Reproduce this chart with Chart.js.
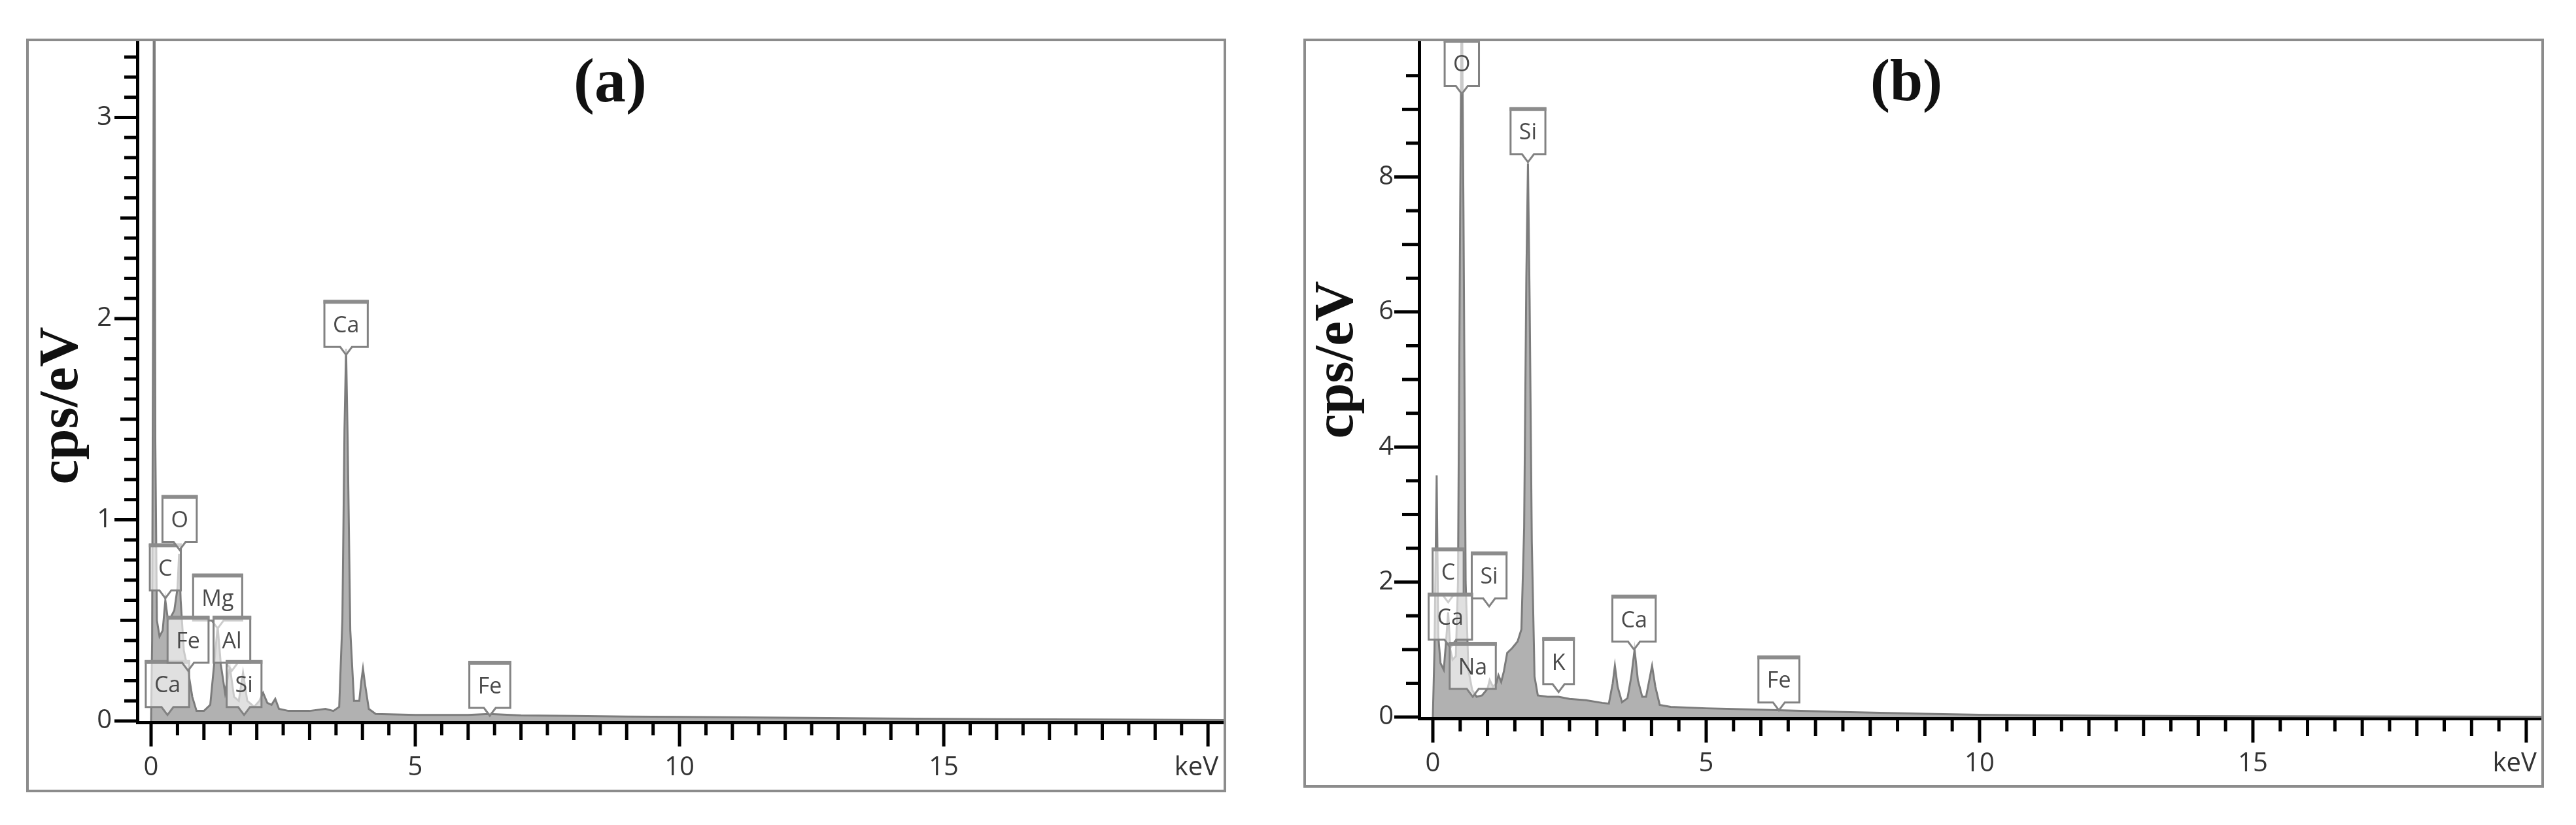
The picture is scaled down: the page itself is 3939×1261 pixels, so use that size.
<!DOCTYPE html>
<html>
<head>
<meta charset="utf-8">
<script src="https://cdn.jsdelivr.net/npm/chart.js@4.4.1/dist/chart.umd.min.js"></script>
<style>
  html, body { margin:0; padding:0; background:#fff; }
  body { width:3939px; height:1261px; position:relative; overflow:hidden; }
  canvas { position:absolute; }
  .frame { position:absolute; box-sizing:border-box; border:4px solid #8c8c8c; pointer-events:none; }
  .tag { position:absolute; font-family:"Liberation Serif","Times New Roman",serif; font-weight:bold;
         line-height:1; white-space:nowrap; color:#111; transform:translateX(-50%); }
  .ylab { position:absolute; font-family:"Liberation Serif","Times New Roman",serif; font-weight:bold;
          font-size:85px; line-height:1; white-space:nowrap; color:#111;
          transform:translate(-50%,-50%) rotate(-90deg); }
</style>
</head>
<body>
<canvas id="specA" width="1831" height="1148" style="left:42px;top:61px"></canvas>
<div class="frame" style="left:40px;top:59px;width:1835px;height:1152px"></div>
<div class="tag" style="left:933px;top:75px;font-size:96px">(a)</div>
<div class="ylab" style="left:89px;top:620px">cps/eV</div>

<canvas id="specB" width="1893" height="1141" style="left:1995px;top:61px"></canvas>
<div class="frame" style="left:1993px;top:59px;width:1897px;height:1145px"></div>
<div class="tag" style="left:2915px;top:78px;font-size:90px">(b)</div>
<div class="ylab" style="left:2039px;top:550px">cps/eV</div>

<script>
// spectrum (a): energy in keV, intensity in cps/eV
const energyA = [0.00,0.02,0.04,0.06,0.08,0.11,0.16,0.22,0.27,0.32,0.38,0.44,0.50,0.53,0.56,0.62,0.70,0.78,0.86,1.00,
  1.12,1.20,1.26,1.32,1.40,1.49,1.57,1.66,1.74,1.82,1.95,2.05,2.12,2.20,2.28,2.35,2.42,2.60,3.00,3.30,
  3.45,3.56,3.62,3.66,3.69,3.72,3.77,3.84,3.94,3.98,4.01,4.05,4.12,4.25,5.0,6.0,6.4,7.0,8.0,9.0,
  10.0,12.0,14.0,16.0,18.0,20.3];
const cpsA = [0,0.40,2.2,4.5,1.4,0.50,0.42,0.45,0.60,0.50,0.52,0.55,0.66,0.83,0.60,0.35,0.25,0.12,0.05,0.05,
  0.08,0.30,0.47,0.28,0.14,0.27,0.12,0.10,0.24,0.10,0.07,0.10,0.14,0.09,0.08,0.11,0.06,0.05,0.05,0.06,
  0.05,0.07,0.50,1.45,1.85,1.40,0.45,0.10,0.10,0.20,0.26,0.18,0.06,0.035,0.03,0.03,0.035,0.028,0.025,0.022,
  0.02,0.016,0.012,0.009,0.007,0.005];

// spectrum (b)
const energyB = [0.00,0.03,0.07,0.10,0.14,0.20,0.24,0.28,0.32,0.36,0.42,0.46,0.50,0.53,0.56,0.60,0.65,0.72,0.80,0.90,
  1.00,1.04,1.10,1.16,1.20,1.25,1.30,1.36,1.45,1.55,1.62,1.67,1.71,1.74,1.77,1.81,1.86,1.92,2.1,2.3,
  2.5,2.8,3.1,3.22,3.29,3.33,3.38,3.46,3.56,3.63,3.69,3.75,3.83,3.90,3.96,4.01,4.07,4.15,4.35,5.0,
  6.0,6.4,7.5,9.0,10.0,11.0,12.5,14.0,17.0,20.3];
const cpsB = [0,1.0,3.58,1.2,0.8,0.7,1.1,1.55,1.0,0.85,0.9,2.0,7.5,11,7.5,2.0,0.7,0.4,0.3,0.32,
  0.42,0.55,0.45,0.5,0.62,0.52,0.68,0.95,1.02,1.12,1.3,2.8,6.5,8.2,6.2,2.6,0.6,0.32,0.3,0.3,
  0.27,0.25,0.21,0.2,0.5,0.76,0.45,0.22,0.28,0.6,1.0,0.55,0.3,0.3,0.55,0.76,0.45,0.18,0.15,0.13,
  0.11,0.1,0.075,0.05,0.035,0.028,0.02,0.014,0.009,0.005];

// element markers: name, energy of the pointer tip, height of the pointer tip
const markNamesA = ['Ca','C','O','Mg','Fe','Al','Si','Ca','Fe'];
const markKeVA   = [0.31,0.27,0.54,1.26,0.70,1.53,1.76,3.69,6.41];
const markCpsA   = [0.03,0.61,0.85,0.46,0.25,0.25,0.03,1.82,0.026];

const markNamesB = ['O','Si','C','Si','Ca','Na','K','Ca','Fe'];
const markKeVB   = [0.53,1.74,0.28,1.03,0.32,0.73,2.30,3.68,6.33];
const markCpsB   = [9.23,8.22,1.70,1.64,1.03,0.30,0.37,1.00,0.10];

// tick labels
const xLabelTicks = [0,5,10,15];
const xUnitLabel = 'keV';
const yLabelTicksA = [0,1,2,3];
const yLabelTicksB = [0,2,4,6,8];

const TICK_FONT = {family:'Open Sans', size:40};

function qs(id){ return document.getElementById(id); }

function steps(from, to, step){
  const out = [];
  const n = Math.round((to - from) / step);
  for(let k = 0; k <= n; k++) out.push(Math.round((from + k*step) * 1000) / 1000);
  return out;
}

function drawMark(ctx, name, px, py){
  ctx.font = '34px "Open Sans"';
  const w = Math.max(46, ctx.measureText(name).width + 26);
  const h = 70, notch = 12;
  const bottom = py - notch, top = bottom - h, left = px - w/2, right = px + w/2;
  ctx.beginPath();
  ctx.moveTo(left, top); ctx.lineTo(right, top); ctx.lineTo(right, bottom);
  ctx.lineTo(px + 9, bottom); ctx.lineTo(px, py); ctx.lineTo(px - 9, bottom);
  ctx.lineTo(left, bottom); ctx.closePath();
  ctx.fillStyle = 'rgba(255,255,255,0.6)';
  ctx.fill();
  ctx.strokeStyle = '#828282'; ctx.lineWidth = 3;
  ctx.stroke();
  ctx.fillStyle = '#8c8c8c';
  ctx.fillRect(left - 1.5, top - 2, w + 3, 6);
  ctx.fillStyle = '#4a4a4a';
  ctx.textAlign = 'center'; ctx.textBaseline = 'middle';
  ctx.fillText(name, px, (top + bottom)/2 + 3);
}

const edsPlugin = {
  id: 'eds',
  afterDraw(chart, args, o){
    const {ctx, chartArea, scales:{x, y}} = chart;
    ctx.save();
    ctx.strokeStyle = '#000'; ctx.lineWidth = 5; ctx.lineCap = 'butt';
    x.ticks.forEach(t => {
      const v = t.value;
      const len = v % 5 === 0 ? 37 : Number.isInteger(v) ? 27 : 20;
      const px = x.getPixelForValue(v);
      ctx.beginPath(); ctx.moveTo(px, chartArea.bottom); ctx.lineTo(px, chartArea.bottom + len); ctx.stroke();
    });
    y.ticks.forEach(t => {
      const v = t.value;
      const len = o.yLabels.includes(v) ? o.yLong : o.isMid(v) ? 26 : 20;
      const py = y.getPixelForValue(v);
      ctx.beginPath(); ctx.moveTo(chartArea.left - len, py); ctx.lineTo(chartArea.left, py); ctx.stroke();
    });
    // unit under the last x tick
    ctx.font = '40px "Open Sans"';
    ctx.fillStyle = '#333'; ctx.textAlign = 'right'; ctx.textBaseline = 'middle';
    ctx.fillText(xUnitLabel, x.getPixelForValue(20) + 16, chartArea.bottom + 46 + 24);
    // element markers
    o.names.forEach((n, i) => drawMark(ctx, n, x.getPixelForValue(o.keV[i]), y.getPixelForValue(o.cps[i])));
    ctx.restore();
  }
};

function spectrumChart(id, o){
  const xTicks = steps(0, 20, 0.5);
  return new Chart(qs(id), {
    type: 'line',
    data: {
      datasets: [{
        data: o.energy.map((e, i) => ({x: e, y: o.cps[i]})),
        borderColor: '#7c7c7c',
        backgroundColor: '#b1b1b1',
        borderWidth: 3,
        fill: 'origin',
        pointRadius: 0,
        tension: 0
      }]
    },
    options: {
      responsive: false,
      animation: false,
      devicePixelRatio: 1,
      layout: {padding: 0},
      plugins: {
        legend: {display: false},
        tooltip: {enabled: false},
        eds: {names: o.names, keV: o.keV, cps: o.marksCps, yLabels: o.yLabels, yLong: o.yLong, isMid: o.isMid}
      },
      scales: {
        x: {
          type: 'linear', min: o.xMin, max: o.xMax,
          afterBuildTicks: s => { s.ticks = xTicks.map(v => ({value: v})); },
          afterFit: s => { s.height = o.xAxisH; s.paddingLeft = 0; s.paddingRight = 0; },
          ticks: {autoSkip: false, maxRotation: 0, minRotation: 0, padding: 46, font: TICK_FONT, color: '#333',
                  callback: v => xLabelTicks.includes(v) ? String(v) : ''},
          grid: {drawOnChartArea: false, drawTicks: false},
          border: {color: '#000', width: 5}
        },
        y: {
          type: 'linear', min: o.yMin, max: o.yMax,
          afterBuildTicks: s => { s.ticks = o.yTicks.map(v => ({value: v})); },
          afterFit: s => { s.width = o.yAxisW; s.paddingTop = 0; s.paddingBottom = 0; },
          ticks: {autoSkip: false, padding: 39, font: TICK_FONT, color: '#333',
                  callback: v => o.yLabels.includes(v) ? String(v) : ''},
          grid: {drawOnChartArea: false, drawTicks: false},
          border: {color: '#000', width: 5}
        }
      }
    },
    plugins: [edsPlugin]
  });
}

spectrumChart('specA', {
  energy: energyA, cps: cpsA,
  names: markNamesA, keV: markKeVA, marksCps: markCpsA,
  xMin: -0.26, xMax: 20.32, yMin: -0.0065, yMax: 3.385,
  yTicks: steps(0, 3.3, 0.1), yLabels: yLabelTicksA, yLong: 35,
  isMid: v => Math.abs(v * 2 - Math.round(v * 2)) < 1e-6,
  xAxisH: 105, yAxisW: 168
});

spectrumChart('specB', {
  energy: energyB, cps: cpsB,
  names: markNamesB, keV: markKeVB, marksCps: markCpsB,
  xMin: -0.251, xMax: 20.3, yMin: -0.019, yMax: 10.03,
  yTicks: steps(0, 9.5, 0.5), yLabels: yLabelTicksB, yLong: 38,
  isMid: v => Number.isInteger(v),
  xAxisH: 104, yAxisW: 175
});
</script>
</body>
</html>
